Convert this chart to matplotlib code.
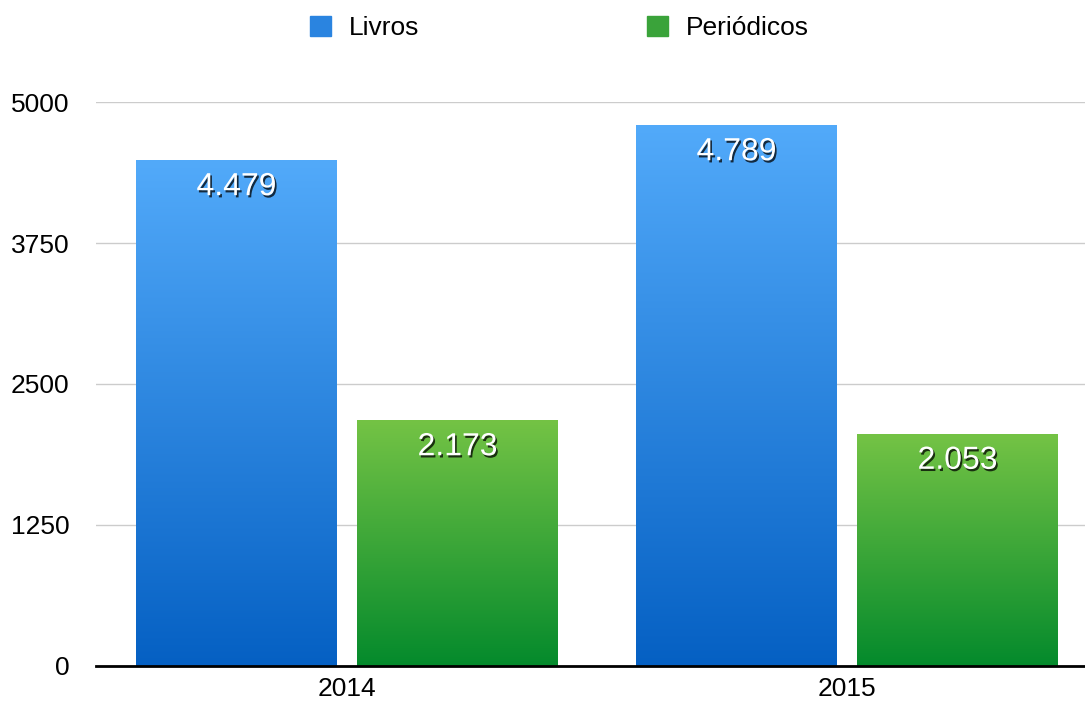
import numpy as np
import matplotlib
matplotlib.use("Agg")
import matplotlib.pyplot as plt
import matplotlib.patheffects as pe
from matplotlib.colors import LinearSegmentedColormap

# data
years = ["2014", "2015"]
livros = [4479, 4789]
periodicos = [2173, 2053]
labels_livros = ["4.479", "4.789"]
labels_periodicos = ["2.173", "2.053"]
yticks = [0, 1250, 2500, 3750, 5000]

plt.rcParams["font.family"] = ["Liberation Sans", "DejaVu Sans"]

blue_cmap = LinearSegmentedColormap.from_list("blue", ["#0560c3", "#52aafa"])
green_cmap = LinearSegmentedColormap.from_list("green", ["#048a2c", "#74c345"])

fig = plt.figure(figsize=(10.85, 7.06), dpi=100)
ax = fig.add_axes([0.0885, 0.0567, 0.9115, 0.7988])

x = np.arange(len(years))
w = 0.402
off = 0.221
bars_l = ax.bar(x - off, livros, w, color="none", zorder=2)
bars_p = ax.bar(x + off, periodicos, w, color="none", zorder=2)

grad = np.linspace(0, 1, 256).reshape(-1, 1)


def fill_gradient(bars, cmap):
    for b in bars:
        x0, y0 = b.get_x(), b.get_y()
        ax.imshow(grad, cmap=cmap, origin="lower", aspect="auto",
                  extent=(x0, x0 + b.get_width(), y0, y0 + b.get_height()),
                  zorder=2, interpolation="bicubic")


fill_gradient(bars_l, blue_cmap)
fill_gradient(bars_p, green_cmap)

shadow = [pe.SimplePatchShadow(offset=(1.2, -1.6), shadow_rgbFace="black", alpha=0.75),
          pe.Normal()]
for bars, labs in [(bars_l, labels_livros), (bars_p, labels_periodicos)]:
    for b, lab in zip(bars, labs):
        ax.annotate(lab, (b.get_x() + b.get_width() / 2, b.get_height()),
                    xytext=(0, -19), textcoords="offset points",
                    ha="center", va="center", fontsize=23, color="white",
                    path_effects=shadow, zorder=4)

ax.set_xlim(-0.502, 1.476)
ax.set_ylim(0, 5000)
ax.set_yticks(yticks)
ax.set_yticklabels([str(t) for t in yticks])
ax.set_xticks(x)
ax.set_xticklabels(years)
ax.tick_params(axis="y", length=0, pad=19, labelsize=19)
ax.tick_params(axis="x", length=0, pad=8, labelsize=19)
ax.yaxis.grid(True, color="#cccccc", linewidth=1)
ax.set_axisbelow(True)
for s in ["top", "right", "left"]:
    ax.spines[s].set_visible(False)
ax.spines["bottom"].set_linewidth(2)
ax.spines["bottom"].set_zorder(5)

# legend
handles = [plt.Rectangle((0, 0), 1, 1, color="#2a84e0"),
           plt.Rectangle((0, 0), 1, 1, color="#3aa33a")]
leg = fig.legend(handles, ["Livros", "Periódicos"], loc="center",
                 bbox_to_anchor=(0.5157, 0.960), ncol=2, frameon=False,
                 fontsize=19, handlelength=0.8, handleheight=0.8,
                 handletextpad=0.7, columnspacing=8.6)

fig.savefig("out.png", dpi=100)
